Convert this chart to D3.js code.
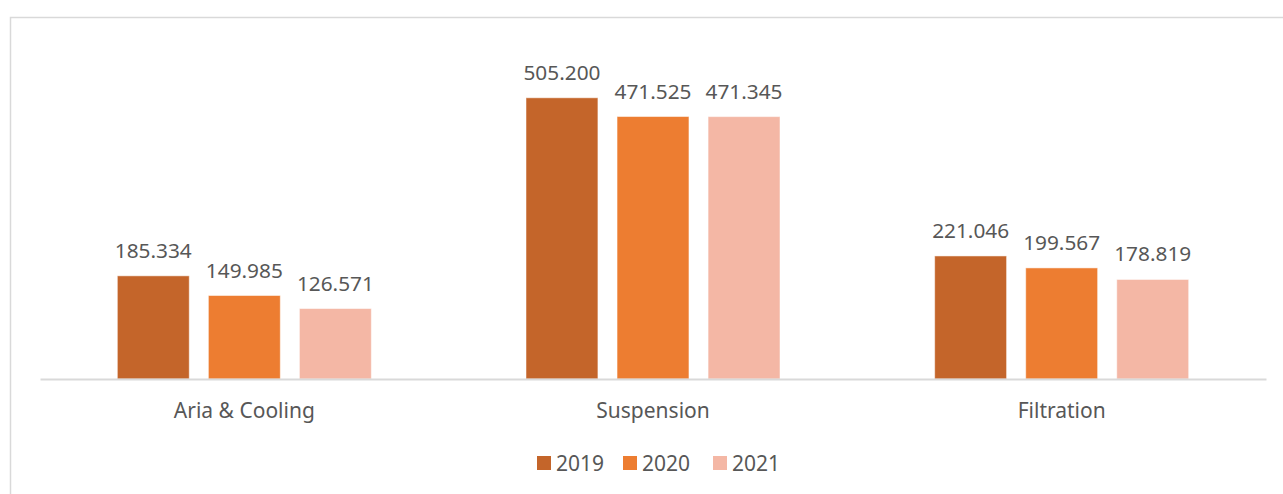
<!DOCTYPE html>
<html>
<head>
<meta charset="utf-8">
<script src="https://cdn.jsdelivr.net/npm/d3@7"></script>
<style>
  body { margin: 0; background: #fff; }
  svg text { font-family: "Noto Sans", "Open Sans", sans-serif; fill: #575757; }
</style>
</head>
<body>
<svg id="chart" width="1283" height="494"></svg>
<script>
const categories = [ 'Aria & Cooling', 'Suspension', 'Filtration' ];
const years = [ '2019', '2020', '2021' ];
const values2019 = [ 185.334, 505.200, 221.046 ];
const values2020 = [ 149.985, 471.525, 199.567 ];
const values2021 = [ 126.571, 471.345, 178.819 ];
const colors = [ '#C4652A', '#ED7D31', '#F4B7A5' ];

const seriesValues = [ values2019, values2020, values2021 ];

function buildData() {
    const rows = [];
    categories.forEach( ( cat, ci ) => {
        years.forEach( ( yr, yi ) => {
            rows.push( { cat, yr, value: seriesValues[ yi ][ ci ], color: colors[ yi ] } );
        } );
    } );
    return rows;
}

const svg = d3.select( '#chart' );

// chart frame
svg.append( 'rect' )
    .attr( 'x', 10.5 ).attr( 'y', 17.5 )
    .attr( 'width', 1290 ).attr( 'height', 500 )
    .attr( 'fill', 'none' )
    .attr( 'stroke', '#d9d9d9' )
    .attr( 'stroke-width', 1.5 );

const plot = { left: 40, right: 1266, top: 45, bottom: 379 };

const xScale = d3.scaleBand()
    .domain( categories )
    .range( [ plot.left, plot.right ] )
    .paddingInner( 0 ).paddingOuter( 0 );

const xInner = d3.scaleBand()
    .domain( years )
    .range( [ 0, 254 ] )
    .paddingInner( 0.21 );

const yScale = d3.scaleLinear()
    .domain( [ 0, 600 ] )
    .range( [ plot.bottom, plot.top ] );

const data = buildData();
const groupOffset = ( xScale.bandwidth() - xInner.range()[ 1 ] ) / 2;

const bars = svg.append( 'g' ).attr( 'class', 'bars' );
bars.selectAll( 'rect' ).data( data )
    .enter().append( 'rect' )
    .attr( 'x', d => xScale( d.cat ) + groupOffset + xInner( d.yr ) )
    .attr( 'y', d => yScale( d.value ) )
    .attr( 'width', xInner.bandwidth() )
    .attr( 'height', d => yScale( 0 ) - yScale( d.value ) )
    .attr( 'fill', d => d.color )
    .attr( 'stroke', '#fff' )
    .attr( 'stroke-opacity', 0.5 )
    .attr( 'stroke-width', 1 );

bars.selectAll( 'text' ).data( data )
    .enter().append( 'text' )
    .attr( 'x', d => xScale( d.cat ) + groupOffset + xInner( d.yr ) + xInner.bandwidth() / 2 )
    .attr( 'y', d => yScale( d.value ) - 18 )
    .attr( 'text-anchor', 'middle' )
    .style( 'font-size', '20.8px' )
    .text( d => d3.format( '.3f' )( d.value ) );

// x axis
const xAxis = d3.axisBottom( xScale ).tickSize( 0 ).tickPadding( 0 );
const axisGroup = svg.append( 'g' )
    .attr( 'transform', `translate(0,${plot.bottom})` )
    .call( xAxis );
axisGroup.select( '.domain' )
    .attr( 'stroke', '#d9d9d9' )
    .attr( 'stroke-width', 2 );
axisGroup.selectAll( '.tick text' )
    .attr( 'y', 39 )
    .attr( 'dy', 0 )
    .style( 'font-size', '21px' )
    .style( 'font-family', '"Noto Sans", "Open Sans", sans-serif' )
    .attr( 'fill', '#575757' );

// legend
const legendX = [ 537, 623, 713 ];
const legend = svg.append( 'g' ).attr( 'class', 'legend' );
const items = legend.selectAll( 'g' ).data( years )
    .enter().append( 'g' )
    .attr( 'transform', ( d, i ) => `translate(${legendX[ i ]},456)` );
items.append( 'rect' )
    .attr( 'width', 14 ).attr( 'height', 14 )
    .attr( 'fill', ( d, i ) => colors[ i ] );
items.append( 'text' )
    .attr( 'x', 19 )
    .attr( 'y', 14.5 )
    .style( 'font-size', '21px' )
    .text( d => d );
</script>
</body>
</html>
